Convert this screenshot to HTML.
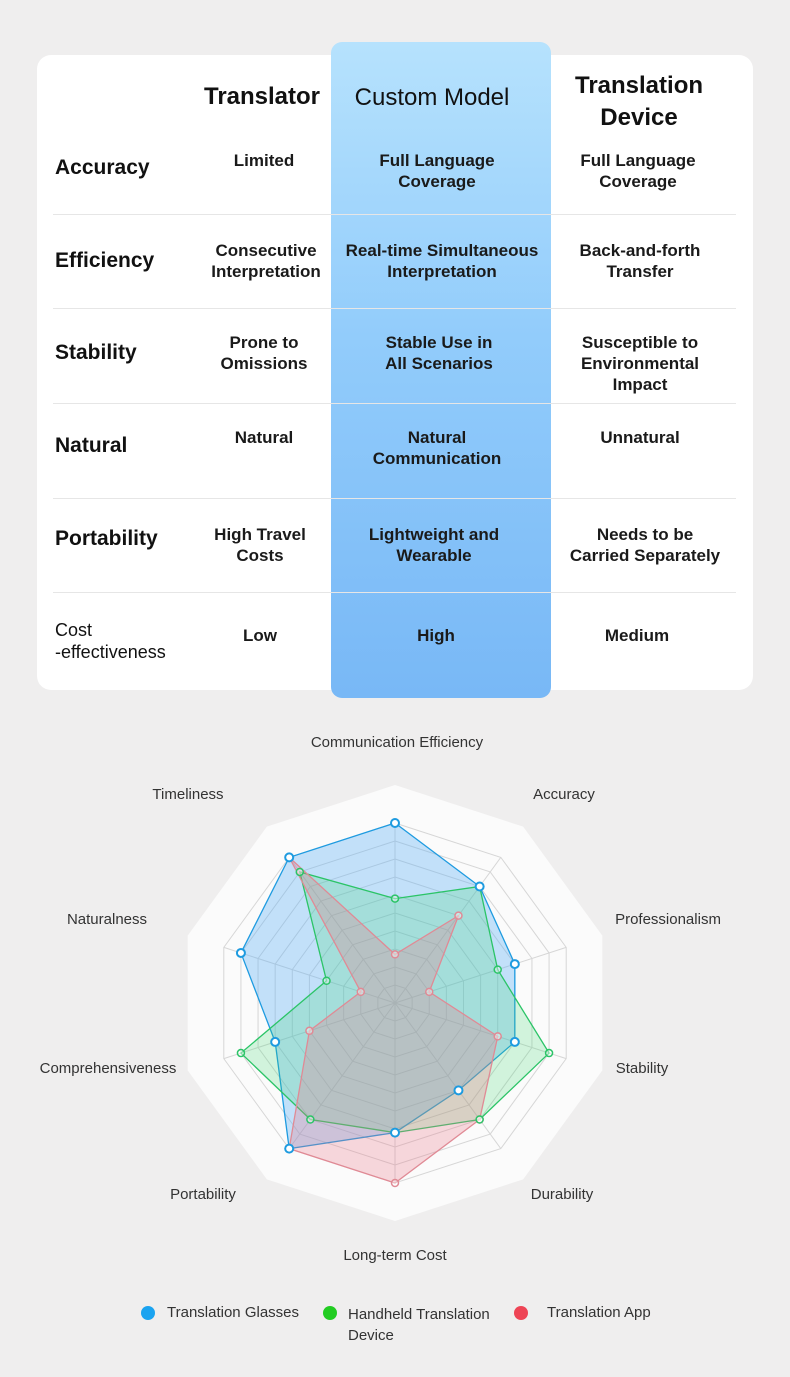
<!DOCTYPE html>
<html><head><meta charset="utf-8"><style>
body{margin:0;background:#efeeee;font-family:"Liberation Sans",sans-serif;}
#page{position:relative;width:790px;height:1377px;overflow:hidden;background:#efeeee;}
.card{position:absolute;left:37px;top:55px;width:716px;height:635px;background:#fff;border-radius:14px;}
.col{position:absolute;left:331px;top:42px;width:220px;height:656px;border-radius:11px;background:linear-gradient(180deg,#b6e2fd 0%,#92ccfb 45%,#78b8f6 100%);}
.sep{position:absolute;left:53px;width:683px;height:1px;background:#e6e6e6;}
.t{position:absolute;text-align:center;color:#111;transform:translateX(-50%);white-space:nowrap;}
.h{font-size:24px;line-height:32px;}
.c{font-size:17px;line-height:21px;font-weight:bold;color:#1a1a1a;}
.rl{position:absolute;left:55px;font-size:21px;line-height:22px;font-weight:bold;color:#111;}
.lab{font-size:15px;color:#333;}
</style></head><body>
<div id="page">
<div class="card"></div>
<div class="col"></div>
<div class="sep" style="top:214px"></div>
<div class="sep" style="top:308px"></div>
<div class="sep" style="top:403px"></div>
<div class="sep" style="top:498px"></div>
<div class="sep" style="top:592px"></div>

<div class="t h" style="left:262px;top:81px;font-weight:bold">Translator</div>
<div class="t h" style="left:432px;top:82px">Custom Model</div>
<div class="t h" style="left:639px;top:70px;font-weight:bold">Translation<br>Device</div>

<div class="rl" style="top:157px">Accuracy</div>
<div class="rl" style="top:250px">Efficiency</div>
<div class="rl" style="top:342px">Stability</div>
<div class="rl" style="top:435px">Natural</div>
<div class="rl" style="top:528px">Portability</div>
<div class="rl" style="top:619px;font-size:18px;font-weight:normal;color:#111">Cost<br>-effectiveness</div>

<div class="t c" style="left:264px;top:150px">Limited</div>
<div class="t c" style="left:437px;top:150px">Full Language<br>Coverage</div>
<div class="t c" style="left:638px;top:150px">Full Language<br>Coverage</div>
<div class="t c" style="left:266px;top:240px">Consecutive<br>Interpretation</div>
<div class="t c" style="left:442px;top:240px">Real-time Simultaneous<br>Interpretation</div>
<div class="t c" style="left:640px;top:240px">Back-and-forth<br>Transfer</div>
<div class="t c" style="left:264px;top:332px">Prone to<br>Omissions</div>
<div class="t c" style="left:439px;top:332px">Stable Use in<br>All Scenarios</div>
<div class="t c" style="left:640px;top:332px">Susceptible to<br>Environmental<br>Impact</div>
<div class="t c" style="left:264px;top:427px">Natural</div>
<div class="t c" style="left:437px;top:427px">Natural<br>Communication</div>
<div class="t c" style="left:640px;top:427px">Unnatural</div>
<div class="t c" style="left:260px;top:524px">High Travel<br>Costs</div>
<div class="t c" style="left:434px;top:524px">Lightweight and<br>Wearable</div>
<div class="t c" style="left:645px;top:524px">Needs to be<br>Carried Separately</div>
<div class="t c" style="left:260px;top:625px">Low</div>
<div class="t c" style="left:436px;top:625px">High</div>
<div class="t c" style="left:637px;top:625px">Medium</div>

<svg id="radar" width="790" height="1377" style="position:absolute;left:0;top:0"></svg>

<div style="position:absolute;left:141px;top:1306px;width:14px;height:14px;border-radius:50%;background:#1aa3f0"></div>
<div class="lab" style="position:absolute;left:167px;top:1304px">Translation Glasses</div>
<div style="position:absolute;left:323px;top:1306px;width:14px;height:14px;border-radius:50%;background:#22cc22"></div>
<div class="lab" style="position:absolute;left:348px;top:1304px;line-height:21px">Handheld Translation<br>Device</div>
<div style="position:absolute;left:514px;top:1306px;width:14px;height:14px;border-radius:50%;background:#ee4455"></div>
<div class="lab" style="position:absolute;left:547px;top:1304px">Translation App</div>
</div>
<script>
const axes=["Communication Efficiency","Accuracy","Professionalism","Stability","Durability","Long-term Cost","Portability","Comprehensiveness","Naturalness","Timeliness"];
const glasses=[10,8,7,7,6,7.2,10,7,9,10];
const handheld=[5.8,8,6,9,8,7.2,8,9,4,9];
const app=[2.7,6,2,6,8,10,10,5,2,10];
const maxVal=10;
const ringCount=10;
const svg=document.getElementById('radar');
const NS="http://www.w3.org/2000/svg";
const cx=395,cy=1003,R=180,N=axes.length;
function pt(i,v){const a=i*2*Math.PI/N;return [cx+Math.sin(a)*R*v/maxVal,cy-Math.cos(a)*R*v/maxVal];}
function mk(t,at){const e=document.createElementNS(NS,t);for(const k in at)e.setAttribute(k,at[k]);svg.appendChild(e);return e;}
// white background decagon
let bg=[];for(let i=0;i<N;i++){const a=i*2*Math.PI/N;bg.push((cx+Math.sin(a)*218)+','+(cy-Math.cos(a)*218));}
let e=mk('polygon',{points:bg.join(' '),fill:'#fbfbfb'});


for(let r=1;r<=ringCount;r++){let p=[];for(let i=0;i<N;i++)p.push(pt(i,maxVal*r/ringCount).join(','));
 e=mk('polygon',{points:p.join(' '),fill:'none',stroke:'#d6d6d6','stroke-width':1});
 
 }
for(let i=0;i<N;i++){const p=pt(i,maxVal);e=mk('line',{x1:cx,y1:cy,x2:p[0],y2:p[1],stroke:'#d6d6d6'});
 
 }
const labPos=[[397,747,'middle'],[564,799,'middle'],[668,924,'middle'],[642,1073,'middle'],[562,1199,'middle'],[395,1260,'middle'],[203,1199,'middle'],[108,1073,'middle'],[107,924,'middle'],[188,799,'middle']];
axes.forEach((a,i)=>{e=mk('text',{x:labPos[i][0],y:labPos[i][1],'text-anchor':labPos[i][2],'font-size':15,fill:'#333','font-family':'Liberation Sans, sans-serif'});e.textContent=a;
 
 });
const series=[[glasses,'rgba(90,175,245,0.35)','#1e9be0','glasses'],[handheld,'rgba(60,215,110,0.22)','#2bc467','handheld'],[app,'rgba(235,120,135,0.28)','#e08a95','app']];
series.forEach(s=>{const p=s[0].map((v,i)=>pt(i,v).join(','));
 e=mk('polygon',{points:p.join(' '),fill:s[1],stroke:s[2],'stroke-width':1.3});
 
 });
series.slice().reverse().forEach(s=>{s[0].forEach((v,i)=>{const q=pt(i,v);
 e=mk('circle',{cx:q[0],cy:q[1],r:s[3]==='glasses'?4:3.5,fill:s[3]==='glasses'?'#fff':'rgba(255,255,255,0.4)',stroke:s[2],'stroke-width':s[3]==='glasses'?2:1.5});
 
 });});
</script>
</body></html>
